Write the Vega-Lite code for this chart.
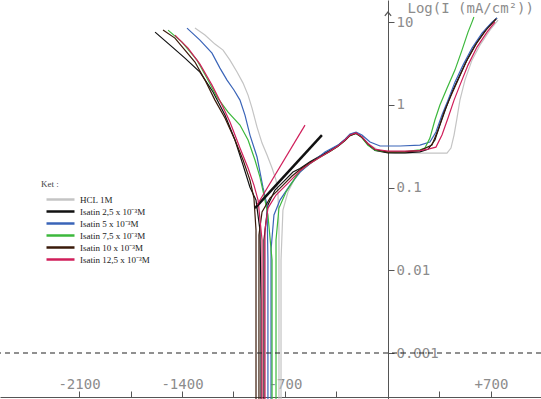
{
  "$schema": "https://vega.github.io/schema/vega-lite/v6.json",
  "width": 541,
  "height": 399,
  "autosize": {"type": "none"},
  "padding": 0,
  "background": "white",
  "config": {"view": {"stroke": null}},
  "datasets": {
    "curves": [
      {"s":"HCL 1M","i":1,"E":-1312,"I":8.46},{"s":"HCL 1M","i":2,"E":-1244,"I":6.97},{"s":"HCL 1M","i":3,"E":-1176,"I":5.42},{"s":"HCL 1M","i":4,"E":-1121,"I":4.59},{"s":"HCL 1M","i":5,"E":-1074,"I":3.47},{"s":"HCL 1M","i":6,"E":-1026,"I":2.49},{"s":"HCL 1M","i":7,"E":-985,"I":1.83},{"s":"HCL 1M","i":8,"E":-951,"I":1.31},{"s":"HCL 1M","i":9,"E":-924,"I":0.914},{"s":"HCL 1M","i":10,"E":-890,"I":0.538},{"s":"HCL 1M","i":11,"E":-856,"I":0.345},{"s":"HCL 1M","i":12,"E":-822,"I":0.247},{"s":"HCL 1M","i":13,"E":-788,"I":0.172},{"s":"HCL 1M","i":14,"E":-761,"I":0.123},{"s":"HCL 1M","i":15,"E":-748,"I":0.0883},{"s":"HCL 1M","i":16,"E":-741,"I":0.0306},{"s":"HCL 1M","i":17,"E":-741,"I":0.00438},{"s":"HCL 1M","i":18,"E":-741,"I":0.0001},{"s":"HCL 1M","i":19,"E":-727,"I":0.0001},{"s":"HCL 1M","i":20,"E":-727,"I":0.0133},{"s":"HCL 1M","i":21,"E":-714,"I":0.0535},{"s":"HCL 1M","i":22,"E":-680,"I":0.0883},{"s":"HCL 1M","i":23,"E":-632,"I":0.13},{"s":"HCL 1M","i":24,"E":-564,"I":0.177},{"s":"HCL 1M","i":25,"E":-476,"I":0.227},{"s":"HCL 1M","i":26,"E":-394,"I":0.284},{"s":"HCL 1M","i":27,"E":-326,"I":0.336},{"s":"HCL 1M","i":28,"E":-272,"I":0.408},{"s":"HCL 1M","i":29,"E":-224,"I":0.456},{"s":"HCL 1M","i":30,"E":-177,"I":0.408},{"s":"HCL 1M","i":31,"E":-122,"I":0.326},{"s":"HCL 1M","i":32,"E":-54,"I":0.276},{"s":"HCL 1M","i":33,"E":48,"I":0.261},{"s":"HCL 1M","i":34,"E":217,"I":0.261},{"s":"HCL 1M","i":35,"E":401,"I":0.261},{"s":"HCL 1M","i":36,"E":428,"I":0.3},{"s":"HCL 1M","i":37,"E":449,"I":0.431},{"s":"HCL 1M","i":38,"E":469,"I":0.692},{"s":"HCL 1M","i":39,"E":489,"I":1.14},{"s":"HCL 1M","i":40,"E":523,"I":1.99},{"s":"HCL 1M","i":41,"E":571,"I":3.47},{"s":"HCL 1M","i":42,"E":625,"I":5.27},{"s":"HCL 1M","i":43,"E":693,"I":8.0},{"s":"HCL 1M","i":44,"E":748,"I":10.6},

      {"s":"Isatin 2,5 x 10⁻³M","i":1,"E":-1583,"I":7.57},{"s":"Isatin 2,5 x 10⁻³M","i":2,"E":-1481,"I":5.27},{"s":"Isatin 2,5 x 10⁻³M","i":3,"E":-1380,"I":3.67},{"s":"Isatin 2,5 x 10⁻³M","i":4,"E":-1278,"I":2.49},{"s":"Isatin 2,5 x 10⁻³M","i":5,"E":-1189,"I":1.43},{"s":"Isatin 2,5 x 10⁻³M","i":6,"E":-1108,"I":0.752},{"s":"Isatin 2,5 x 10⁻³M","i":7,"E":-1040,"I":0.375},{"s":"Isatin 2,5 x 10⁻³M","i":8,"E":-985,"I":0.187},{"s":"Isatin 2,5 x 10⁻³M","i":9,"E":-938,"I":0.101},{"s":"Isatin 2,5 x 10⁻³M","i":10,"E":-897,"I":0.0706},{"s":"Isatin 2,5 x 10⁻³M","i":11,"E":-870,"I":0.0306},{"s":"Isatin 2,5 x 10⁻³M","i":12,"E":-863,"I":0.00438},{"s":"Isatin 2,5 x 10⁻³M","i":13,"E":-863,"I":0.0001},{"s":"Isatin 2,5 x 10⁻³M","i":14,"E":-843,"I":0.0001},{"s":"Isatin 2,5 x 10⁻³M","i":15,"E":-843,"I":0.0232},{"s":"Isatin 2,5 x 10⁻³M","i":16,"E":-816,"I":0.0615},{"s":"Isatin 2,5 x 10⁻³M","i":17,"E":-768,"I":0.0933},{"s":"Isatin 2,5 x 10⁻³M","i":18,"E":-700,"I":0.123},{"s":"Isatin 2,5 x 10⁻³M","i":19,"E":-646,"I":0.154},{"s":"Isatin 2,5 x 10⁻³M","i":20,"E":-598,"I":0.17},{"s":"Isatin 2,5 x 10⁻³M","i":21,"E":-530,"I":0.205},{"s":"Isatin 2,5 x 10⁻³M","i":22,"E":-462,"I":0.24},{"s":"Isatin 2,5 x 10⁻³M","i":23,"E":-394,"I":0.28},{"s":"Isatin 2,5 x 10⁻³M","i":24,"E":-340,"I":0.322},{"s":"Isatin 2,5 x 10⁻³M","i":25,"E":-292,"I":0.38},{"s":"Isatin 2,5 x 10⁻³M","i":26,"E":-258,"I":0.436},{"s":"Isatin 2,5 x 10⁻³M","i":27,"E":-217,"I":0.46},{"s":"Isatin 2,5 x 10⁻³M","i":28,"E":-177,"I":0.41},{"s":"Isatin 2,5 x 10⁻³M","i":29,"E":-136,"I":0.33},{"s":"Isatin 2,5 x 10⁻³M","i":30,"E":-88,"I":0.28},{"s":"Isatin 2,5 x 10⁻³M","i":31,"E":0,"I":0.262},{"s":"Isatin 2,5 x 10⁻³M","i":32,"E":116,"I":0.262},{"s":"Isatin 2,5 x 10⁻³M","i":33,"E":217,"I":0.27},{"s":"Isatin 2,5 x 10⁻³M","i":34,"E":272,"I":0.29},{"s":"Isatin 2,5 x 10⁻³M","i":35,"E":319,"I":0.375},{"s":"Isatin 2,5 x 10⁻³M","i":36,"E":353,"I":0.569},{"s":"Isatin 2,5 x 10⁻³M","i":37,"E":394,"I":0.914},{"s":"Isatin 2,5 x 10⁻³M","i":38,"E":435,"I":1.43},{"s":"Isatin 2,5 x 10⁻³M","i":39,"E":489,"I":2.29},{"s":"Isatin 2,5 x 10⁻³M","i":40,"E":544,"I":3.67},{"s":"Isatin 2,5 x 10⁻³M","i":41,"E":605,"I":5.73},{"s":"Isatin 2,5 x 10⁻³M","i":42,"E":673,"I":8.46},{"s":"Isatin 2,5 x 10⁻³M","i":43,"E":741,"I":11.2},

      {"s":"Isatin 5 x 10⁻³M","i":1,"E":-1366,"I":8.46},{"s":"Isatin 5 x 10⁻³M","i":2,"E":-1278,"I":6.06},{"s":"Isatin 5 x 10⁻³M","i":3,"E":-1196,"I":4.22},{"s":"Isatin 5 x 10⁻³M","i":4,"E":-1142,"I":2.78},{"s":"Isatin 5 x 10⁻³M","i":5,"E":-1094,"I":1.99},{"s":"Isatin 5 x 10⁻³M","i":6,"E":-1047,"I":1.51},{"s":"Isatin 5 x 10⁻³M","i":7,"E":-1006,"I":1.14},{"s":"Isatin 5 x 10⁻³M","i":8,"E":-972,"I":0.752},{"s":"Isatin 5 x 10⁻³M","i":9,"E":-938,"I":0.431},{"s":"Isatin 5 x 10⁻³M","i":10,"E":-890,"I":0.234},{"s":"Isatin 5 x 10⁻³M","i":11,"E":-850,"I":0.101},{"s":"Isatin 5 x 10⁻³M","i":12,"E":-822,"I":0.0615},{"s":"Isatin 5 x 10⁻³M","i":13,"E":-816,"I":0.0133},{"s":"Isatin 5 x 10⁻³M","i":14,"E":-816,"I":0.0001},{"s":"Isatin 5 x 10⁻³M","i":15,"E":-795,"I":0.0001},{"s":"Isatin 5 x 10⁻³M","i":16,"E":-795,"I":0.0176},{"s":"Isatin 5 x 10⁻³M","i":17,"E":-775,"I":0.0466},{"s":"Isatin 5 x 10⁻³M","i":18,"E":-734,"I":0.0706},{"s":"Isatin 5 x 10⁻³M","i":19,"E":-666,"I":0.107},{"s":"Isatin 5 x 10⁻³M","i":20,"E":-598,"I":0.154},{"s":"Isatin 5 x 10⁻³M","i":21,"E":-516,"I":0.203},{"s":"Isatin 5 x 10⁻³M","i":22,"E":-428,"I":0.269},{"s":"Isatin 5 x 10⁻³M","i":23,"E":-340,"I":0.326},{"s":"Isatin 5 x 10⁻³M","i":24,"E":-292,"I":0.385},{"s":"Isatin 5 x 10⁻³M","i":25,"E":-258,"I":0.443},{"s":"Isatin 5 x 10⁻³M","i":26,"E":-217,"I":0.469},{"s":"Isatin 5 x 10⁻³M","i":27,"E":-177,"I":0.431},{"s":"Isatin 5 x 10⁻³M","i":28,"E":-122,"I":0.355},{"s":"Isatin 5 x 10⁻³M","i":29,"E":-54,"I":0.318},{"s":"Isatin 5 x 10⁻³M","i":30,"E":82,"I":0.318},{"s":"Isatin 5 x 10⁻³M","i":31,"E":217,"I":0.326},{"s":"Isatin 5 x 10⁻³M","i":32,"E":285,"I":0.355},{"s":"Isatin 5 x 10⁻³M","i":33,"E":326,"I":0.469},{"s":"Isatin 5 x 10⁻³M","i":34,"E":367,"I":0.752},{"s":"Isatin 5 x 10⁻³M","i":35,"E":408,"I":1.14},{"s":"Isatin 5 x 10⁻³M","i":36,"E":455,"I":1.88},{"s":"Isatin 5 x 10⁻³M","i":37,"E":510,"I":3.02},{"s":"Isatin 5 x 10⁻³M","i":38,"E":571,"I":4.85},{"s":"Isatin 5 x 10⁻³M","i":39,"E":639,"I":7.36},{"s":"Isatin 5 x 10⁻³M","i":40,"E":707,"I":10.0},{"s":"Isatin 5 x 10⁻³M","i":41,"E":741,"I":11.2},

      {"s":"Isatin 7,5 x 10⁻³M","i":1,"E":-1495,"I":8.0},{"s":"Isatin 7,5 x 10⁻³M","i":2,"E":-1400,"I":5.73},{"s":"Isatin 7,5 x 10⁻³M","i":3,"E":-1298,"I":3.47},{"s":"Isatin 7,5 x 10⁻³M","i":4,"E":-1230,"I":2.1},{"s":"Isatin 7,5 x 10⁻³M","i":5,"E":-1162,"I":1.24},{"s":"Isatin 7,5 x 10⁻³M","i":6,"E":-1087,"I":0.817},{"s":"Isatin 7,5 x 10⁻³M","i":7,"E":-1006,"I":0.569},{"s":"Isatin 7,5 x 10⁻³M","i":8,"E":-951,"I":0.375},{"s":"Isatin 7,5 x 10⁻³M","i":9,"E":-904,"I":0.215},{"s":"Isatin 7,5 x 10⁻³M","i":10,"E":-870,"I":0.134},{"s":"Isatin 7,5 x 10⁻³M","i":11,"E":-843,"I":0.0812},{"s":"Isatin 7,5 x 10⁻³M","i":12,"E":-816,"I":0.0466},{"s":"Isatin 7,5 x 10⁻³M","i":13,"E":-788,"I":0.0133},{"s":"Isatin 7,5 x 10⁻³M","i":14,"E":-788,"I":0.0001},{"s":"Isatin 7,5 x 10⁻³M","i":15,"E":-761,"I":0.0001},{"s":"Isatin 7,5 x 10⁻³M","i":16,"E":-761,"I":0.0232},{"s":"Isatin 7,5 x 10⁻³M","i":17,"E":-741,"I":0.0565},{"s":"Isatin 7,5 x 10⁻³M","i":18,"E":-693,"I":0.0883},{"s":"Isatin 7,5 x 10⁻³M","i":19,"E":-632,"I":0.13},{"s":"Isatin 7,5 x 10⁻³M","i":20,"E":-598,"I":0.16},{"s":"Isatin 7,5 x 10⁻³M","i":21,"E":-530,"I":0.195},{"s":"Isatin 7,5 x 10⁻³M","i":22,"E":-462,"I":0.232},{"s":"Isatin 7,5 x 10⁻³M","i":23,"E":-394,"I":0.272},{"s":"Isatin 7,5 x 10⁻³M","i":24,"E":-340,"I":0.315},{"s":"Isatin 7,5 x 10⁻³M","i":25,"E":-292,"I":0.372},{"s":"Isatin 7,5 x 10⁻³M","i":26,"E":-258,"I":0.428},{"s":"Isatin 7,5 x 10⁻³M","i":27,"E":-217,"I":0.452},{"s":"Isatin 7,5 x 10⁻³M","i":28,"E":-177,"I":0.4},{"s":"Isatin 7,5 x 10⁻³M","i":29,"E":-136,"I":0.325},{"s":"Isatin 7,5 x 10⁻³M","i":30,"E":-88,"I":0.283},{"s":"Isatin 7,5 x 10⁻³M","i":31,"E":0,"I":0.27},{"s":"Isatin 7,5 x 10⁻³M","i":32,"E":116,"I":0.272},{"s":"Isatin 7,5 x 10⁻³M","i":33,"E":217,"I":0.285},{"s":"Isatin 7,5 x 10⁻³M","i":34,"E":251,"I":0.3},{"s":"Isatin 7,5 x 10⁻³M","i":35,"E":285,"I":0.396},{"s":"Isatin 7,5 x 10⁻³M","i":36,"E":319,"I":0.655},{"s":"Isatin 7,5 x 10⁻³M","i":37,"E":353,"I":0.993},{"s":"Isatin 7,5 x 10⁻³M","i":38,"E":401,"I":1.59},{"s":"Isatin 7,5 x 10⁻³M","i":39,"E":455,"I":2.63},{"s":"Isatin 7,5 x 10⁻³M","i":40,"E":503,"I":4.59},{"s":"Isatin 7,5 x 10⁻³M","i":41,"E":544,"I":7.57},{"s":"Isatin 7,5 x 10⁻³M","i":42,"E":571,"I":10.0},{"s":"Isatin 7,5 x 10⁻³M","i":43,"E":584,"I":11.5},

      {"s":"Isatin 10 x 10⁻³M","i":1,"E":-1529,"I":8.0},{"s":"Isatin 10 x 10⁻³M","i":2,"E":-1448,"I":6.41},{"s":"Isatin 10 x 10⁻³M","i":3,"E":-1380,"I":4.59},{"s":"Isatin 10 x 10⁻³M","i":4,"E":-1312,"I":3.29},{"s":"Isatin 10 x 10⁻³M","i":5,"E":-1244,"I":1.99},{"s":"Isatin 10 x 10⁻³M","i":6,"E":-1176,"I":1.14},{"s":"Isatin 10 x 10⁻³M","i":7,"E":-1108,"I":0.692},{"s":"Isatin 10 x 10⁻³M","i":8,"E":-1040,"I":0.375},{"s":"Isatin 10 x 10⁻³M","i":9,"E":-985,"I":0.215},{"s":"Isatin 10 x 10⁻³M","i":10,"E":-938,"I":0.123},{"s":"Isatin 10 x 10⁻³M","i":11,"E":-911,"I":0.0746},{"s":"Isatin 10 x 10⁻³M","i":12,"E":-897,"I":0.0306},{"s":"Isatin 10 x 10⁻³M","i":13,"E":-897,"I":0.0001},{"s":"Isatin 10 x 10⁻³M","i":14,"E":-877,"I":0.0001},{"s":"Isatin 10 x 10⁻³M","i":15,"E":-877,"I":0.0267},{"s":"Isatin 10 x 10⁻³M","i":16,"E":-856,"I":0.0506},{"s":"Isatin 10 x 10⁻³M","i":17,"E":-802,"I":0.0746},{"s":"Isatin 10 x 10⁻³M","i":18,"E":-720,"I":0.104},{"s":"Isatin 10 x 10⁻³M","i":19,"E":-652,"I":0.138},{"s":"Isatin 10 x 10⁻³M","i":20,"E":-598,"I":0.165},{"s":"Isatin 10 x 10⁻³M","i":21,"E":-530,"I":0.2},{"s":"Isatin 10 x 10⁻³M","i":22,"E":-462,"I":0.236},{"s":"Isatin 10 x 10⁻³M","i":23,"E":-394,"I":0.274},{"s":"Isatin 10 x 10⁻³M","i":24,"E":-340,"I":0.316},{"s":"Isatin 10 x 10⁻³M","i":25,"E":-292,"I":0.37},{"s":"Isatin 10 x 10⁻³M","i":26,"E":-258,"I":0.425},{"s":"Isatin 10 x 10⁻³M","i":27,"E":-217,"I":0.45},{"s":"Isatin 10 x 10⁻³M","i":28,"E":-177,"I":0.405},{"s":"Isatin 10 x 10⁻³M","i":29,"E":-136,"I":0.335},{"s":"Isatin 10 x 10⁻³M","i":30,"E":-88,"I":0.288},{"s":"Isatin 10 x 10⁻³M","i":31,"E":0,"I":0.268},{"s":"Isatin 10 x 10⁻³M","i":32,"E":116,"I":0.27},{"s":"Isatin 10 x 10⁻³M","i":33,"E":217,"I":0.28},{"s":"Isatin 10 x 10⁻³M","i":34,"E":299,"I":0.326},{"s":"Isatin 10 x 10⁻³M","i":35,"E":340,"I":0.495},{"s":"Isatin 10 x 10⁻³M","i":36,"E":381,"I":0.817},{"s":"Isatin 10 x 10⁻³M","i":37,"E":421,"I":1.21},{"s":"Isatin 10 x 10⁻³M","i":38,"E":476,"I":1.99},{"s":"Isatin 10 x 10⁻³M","i":39,"E":530,"I":3.29},{"s":"Isatin 10 x 10⁻³M","i":40,"E":598,"I":5.42},{"s":"Isatin 10 x 10⁻³M","i":41,"E":666,"I":8.0},{"s":"Isatin 10 x 10⁻³M","i":42,"E":734,"I":10.9},

      {"s":"Isatin 12,5 x 10⁻³M","i":1,"E":-1448,"I":6.97},{"s":"Isatin 12,5 x 10⁻³M","i":2,"E":-1359,"I":4.85},{"s":"Isatin 12,5 x 10⁻³M","i":3,"E":-1278,"I":3.1},{"s":"Isatin 12,5 x 10⁻³M","i":4,"E":-1196,"I":1.73},{"s":"Isatin 12,5 x 10⁻³M","i":5,"E":-1128,"I":0.993},{"s":"Isatin 12,5 x 10⁻³M","i":6,"E":-1074,"I":0.62},{"s":"Isatin 12,5 x 10⁻³M","i":7,"E":-1006,"I":0.3},{"s":"Isatin 12,5 x 10⁻³M","i":8,"E":-951,"I":0.172},{"s":"Isatin 12,5 x 10⁻³M","i":9,"E":-911,"I":0.107},{"s":"Isatin 12,5 x 10⁻³M","i":10,"E":-883,"I":0.0706},{"s":"Isatin 12,5 x 10⁻³M","i":11,"E":-856,"I":0.0232},{"s":"Isatin 12,5 x 10⁻³M","i":12,"E":-856,"I":0.0001},{"s":"Isatin 12,5 x 10⁻³M","i":13,"E":-836,"I":0.0001},{"s":"Isatin 12,5 x 10⁻³M","i":14,"E":-836,"I":0.0306},{"s":"Isatin 12,5 x 10⁻³M","i":15,"E":-816,"I":0.0565},{"s":"Isatin 12,5 x 10⁻³M","i":16,"E":-761,"I":0.0812},{"s":"Isatin 12,5 x 10⁻³M","i":17,"E":-686,"I":0.11},{"s":"Isatin 12,5 x 10⁻³M","i":18,"E":-625,"I":0.142},{"s":"Isatin 12,5 x 10⁻³M","i":19,"E":-598,"I":0.16},{"s":"Isatin 12,5 x 10⁻³M","i":20,"E":-530,"I":0.196},{"s":"Isatin 12,5 x 10⁻³M","i":21,"E":-462,"I":0.233},{"s":"Isatin 12,5 x 10⁻³M","i":22,"E":-394,"I":0.275},{"s":"Isatin 12,5 x 10⁻³M","i":23,"E":-340,"I":0.318},{"s":"Isatin 12,5 x 10⁻³M","i":24,"E":-292,"I":0.376},{"s":"Isatin 12,5 x 10⁻³M","i":25,"E":-258,"I":0.432},{"s":"Isatin 12,5 x 10⁻³M","i":26,"E":-217,"I":0.457},{"s":"Isatin 12,5 x 10⁻³M","i":27,"E":-177,"I":0.41},{"s":"Isatin 12,5 x 10⁻³M","i":28,"E":-136,"I":0.34},{"s":"Isatin 12,5 x 10⁻³M","i":29,"E":-88,"I":0.29},{"s":"Isatin 12,5 x 10⁻³M","i":30,"E":0,"I":0.275},{"s":"Isatin 12,5 x 10⁻³M","i":31,"E":116,"I":0.275},{"s":"Isatin 12,5 x 10⁻³M","i":32,"E":217,"I":0.28},{"s":"Isatin 12,5 x 10⁻³M","i":33,"E":272,"I":0.292},{"s":"Isatin 12,5 x 10⁻³M","i":34,"E":326,"I":0.308},{"s":"Isatin 12,5 x 10⁻³M","i":35,"E":367,"I":0.431},{"s":"Isatin 12,5 x 10⁻³M","i":36,"E":408,"I":0.692},{"s":"Isatin 12,5 x 10⁻³M","i":37,"E":449,"I":1.14},{"s":"Isatin 12,5 x 10⁻³M","i":38,"E":489,"I":1.73},{"s":"Isatin 12,5 x 10⁻³M","i":39,"E":544,"I":3.02},{"s":"Isatin 12,5 x 10⁻³M","i":40,"E":605,"I":4.99},{"s":"Isatin 12,5 x 10⁻³M","i":41,"E":673,"I":7.57},{"s":"Isatin 12,5 x 10⁻³M","i":42,"E":727,"I":10.0}
    ],
    "fits": [
      {"s":"Isatin 2,5 x 10⁻³M","i":1,"E":-904,"I":0.0565},{"s":"Isatin 2,5 x 10⁻³M","i":2,"E":-449,"I":0.431},
      {"s":"Isatin 12,5 x 10⁻³M","i":1,"E":-890,"I":0.0615},{"s":"Isatin 12,5 x 10⁻³M","i":2,"E":-564,"I":0.569}
    ],
    "refs": [{"level": 0.001, "E0": 0, "top": 13}]
  },
  "layer": [
    {
      "data": {"name": "curves"},
      "mark": {"type": "line", "strokeWidth": 1.2, "clip": true},
      "encoding": {
        "x": {
          "field": "E", "type": "quantitative",
          "scale": {"domain": [-2637, 1040], "nice": false, "zero": false},
          "axis": {
            "orient": "bottom", "offset": -2,
            "values": [-2100, -1750, -1400, -1050, -700, -350, 0, 350, 700],
            "labelExpr": "datum.value == 700 ? '+700' : (datum.value == -2100 || datum.value == -1400 || datum.value == -700) ? datum.value + '' : ''",
            "tickSize": -6, "labelPadding": -7, "labelBaseline": "middle",
            "labelFont": "DejaVu Sans Mono", "labelFontSize": 14, "labelColor": "#8c8c8c",
            "domainColor": "#555", "tickColor": "#555", "title": null, "grid": false,
            "labelFlush": false, "labelOverlap": false
          }
        },
        "y": {
          "field": "I", "type": "quantitative",
          "scale": {"type": "log", "domain": [0.000278, 18.5], "nice": false},
          "axis": {
            "orient": "right", "offset": -153,
            "values": [10, 1, 0.1, 0.01, 0.001], "format": "~g",
            "tickSize": 6, "labelPadding": 2,
            "labelFont": "DejaVu Sans Mono", "labelFontSize": 14, "labelColor": "#8c8c8c",
            "domainColor": "#555", "tickColor": "#555", "grid": false,
            "title": "Log(I (mA/cm²))", "titleAngle": 0, "titleX": 19, "titleY": 8,
            "titleAlign": "left", "titleBaseline": "middle",
            "titleFont": "DejaVu Sans Mono", "titleFontSize": 14, "titleFontWeight": "normal", "titleColor": "#8c8c8c",
            "labelFlush": false, "labelOverlap": false
          }
        },
        "color": {
          "field": "s", "type": "nominal",
          "scale": {
            "domain": ["HCL 1M", "Isatin 2,5 x 10⁻³M", "Isatin 5 x 10⁻³M", "Isatin 7,5 x 10⁻³M", "Isatin 10 x 10⁻³M", "Isatin 12,5 x 10⁻³M"],
            "range": ["#c4c4c4", "#111111", "#3a64b8", "#3cb83c", "#3a1a0a", "#d01e5a"]
          },
          "legend": {
            "orient": "none", "legendX": 41, "legendY": 180,
            "title": "Ket :", "titleFont": "Liberation Serif", "titleFontSize": 9, "titleFontWeight": "normal", "titleColor": "#444", "titlePadding": 4,
            "labelFont": "Liberation Serif", "labelFontSize": 9, "labelColor": "#222",
            "symbolType": "M-0.2,0L5.4,0", "symbolSize": 100, "symbolStrokeWidth": 2.5,
            "labelOffset": 26, "rowPadding": -2, "padding": 0
          }
        },
        "order": {"field": "i", "type": "quantitative"}
      }
    },
    {
      "data": {"name": "fits"},
      "transform": [{"filter": "datum.s == 'Isatin 2,5 x 10⁻³M'"}],
      "mark": {"type": "line", "strokeWidth": 2.5, "clip": true},
      "encoding": {
        "x": {"field": "E", "type": "quantitative"},
        "y": {"field": "I", "type": "quantitative"},
        "color": {"field": "s", "type": "nominal"},
        "order": {"field": "i", "type": "quantitative"}
      }
    },
    {
      "data": {"name": "fits"},
      "transform": [{"filter": "datum.s == 'Isatin 12,5 x 10⁻³M'"}],
      "mark": {"type": "line", "strokeWidth": 1.2, "clip": true},
      "encoding": {
        "x": {"field": "E", "type": "quantitative"},
        "y": {"field": "I", "type": "quantitative"},
        "color": {"field": "s", "type": "nominal"},
        "order": {"field": "i", "type": "quantitative"}
      }
    },
    {
      "data": {"name": "refs"},
      "mark": {"type": "rule", "strokeDash": [5, 4], "color": "#222", "strokeWidth": 1.2},
      "encoding": {"y": {"field": "level", "type": "quantitative"}}
    },
    {
      "data": {"name": "refs"},
      "mark": {"type": "point", "shape": "M-1,1L0,-0.2L1,1", "filled": false, "size": 40, "stroke": "#555", "strokeWidth": 1.2, "opacity": 1},
      "encoding": {
        "x": {"field": "E0", "type": "quantitative"},
        "y": {"field": "top", "type": "quantitative"}
      }
    }
  ]
}
